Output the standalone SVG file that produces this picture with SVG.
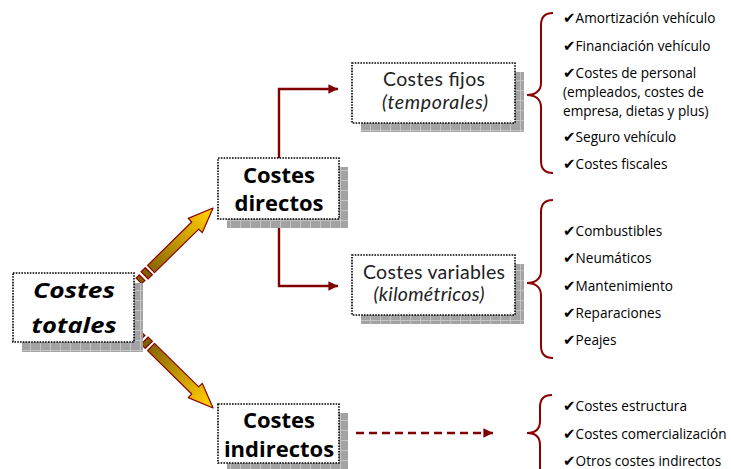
<svg xmlns="http://www.w3.org/2000/svg" width="731" height="469" viewBox="0 0 731 469">
<defs>
<pattern id="grid" width="10" height="10" patternUnits="userSpaceOnUse">
<rect width="10" height="10" fill="#a3a3a3"/>
<path d="M0,0.5H10M0.5,0V10" stroke="#c4c4c4" stroke-width="1"/>
</pattern>
<linearGradient id="ag" gradientUnits="userSpaceOnUse" x1="-10" y1="0" x2="80" y2="0">
<stop offset="0" stop-color="#7a5a00"/>
<stop offset="1" stop-color="#ffcc00"/>
</linearGradient>
<marker id="ah" viewBox="0 0 10 10" refX="10" refY="5" markerWidth="4" markerHeight="4" orient="auto" markerUnits="strokeWidth">
<path d="M0,0L10,5L0,10z" fill="#800000"/>
</marker>
<g id="bigarrow">
<path d="M0,-5H62V-10L87,0L62,10V5H0z" fill="url(#ag)" stroke="#8b0000" stroke-width="1.2" stroke-linejoin="round"/>
<rect x="-9" y="-5" width="6" height="10" fill="#7f6000" stroke="#8b0000" stroke-width="1.2"/>
<rect x="-17" y="-4" width="4.5" height="8" fill="#7f6000" stroke="#8b0000" stroke-width="1.2"/>
</g>
</defs>
<style>
.shadow{fill:url(#grid)}
.box{fill:#fff;stroke:#000;stroke-width:1.6;stroke-dasharray:1.6 1.2}
.big{font-family:"Open Sans","Liberation Sans",sans-serif;font-weight:bold;font-size:22px;fill:#000;text-anchor:middle}
.mid{font-family:Lato,"Open Sans","Liberation Sans",sans-serif;font-size:19.5px;fill:#222;text-anchor:middle}
.list{font-family:"Open Sans","Liberation Sans","DejaVu Sans",sans-serif;font-size:13.6px;fill:#000}
.ck{font-family:"DejaVu Sans",sans-serif;font-size:15px}
.conn{fill:none;stroke:#800000;stroke-width:2.4}
.brace{fill:none;stroke:#8b0000;stroke-width:2}
</style>

<g id="connectors">
<use href="#bigarrow" transform="translate(151,269) rotate(-44.5)"/>
<use href="#bigarrow" transform="translate(151,347) rotate(44.5)"/>
<path class="conn" d="M279,158V89H338" marker-end="url(#ah)"/>
<path class="conn" d="M279,228V286H338" marker-end="url(#ah)"/>
<path class="conn" d="M356,433H493" stroke-dasharray="8 5" marker-end="url(#ah)"/>
</g>

<g id="costes-totales">
<rect class="shadow" x="22" y="283" width="121" height="69"/>
<rect class="box" x="13" y="273" width="121" height="69"/>
<text class="big" font-style="italic" font-size="27" x="74" y="298" textLength="82" lengthAdjust="spacingAndGlyphs">Costes</text>
<text class="big" font-style="italic" font-size="27" x="74" y="333" textLength="85" lengthAdjust="spacingAndGlyphs">totales</text>
</g>

<g id="costes-directos">
<rect class="shadow" x="227" y="167" width="121" height="61"/>
<rect class="box" x="218" y="158" width="121" height="61"/>
<text class="big" x="279" y="183">Costes</text>
<text class="big" x="279" y="211">directos</text>
</g>

<g id="costes-indirectos">
<rect class="shadow" x="227" y="413" width="121" height="60"/>
<rect class="box" x="218" y="404" width="121" height="59"/>
<text class="big" x="279" y="428">Costes</text>
<text class="big" x="279" y="457">indirectos</text>
</g>

<g id="costes-fijos">
<rect class="shadow" x="361" y="72" width="163" height="60"/>
<rect class="box" x="352" y="63" width="163" height="60"/>
<text class="mid" x="434" y="86" textLength="102" lengthAdjust="spacing">Costes fijos</text>
<text class="mid" font-style="italic" x="435" y="109" textLength="106" lengthAdjust="spacing">(temporales)</text>
</g>

<g id="costes-variables">
<rect class="shadow" x="361" y="264" width="163" height="60"/>
<rect class="box" x="352" y="255" width="163" height="60"/>
<text class="mid" x="434" y="279" textLength="142" lengthAdjust="spacing">Costes variables</text>
<text class="mid" font-style="italic" x="429" y="301" textLength="111" lengthAdjust="spacing">(kilométricos)</text>
</g>

<g id="lista-fijos">
<path class="brace" d="M553,13C545,13 541,17 541,25V83C541,91 535,95 527,95C535,95 541,99 541,107V161C541,169 545,173 553,173"/>
<text class="list" x="563" y="23"><tspan class="ck">✔</tspan>Amortización vehículo</text>
<text class="list" x="563" y="51"><tspan class="ck">✔</tspan>Financiación vehículo</text>
<text class="list" x="563" y="78"><tspan class="ck">✔</tspan>Costes de personal</text>
<text class="list" x="563" y="97">(empleados, costes de</text>
<text class="list" x="563" y="116">empresa, dietas y plus)</text>
<text class="list" x="563" y="142"><tspan class="ck">✔</tspan>Seguro vehículo</text>
<text class="list" x="563" y="169"><tspan class="ck">✔</tspan>Costes fiscales</text>
</g>

<g id="lista-variables">
<path class="brace" d="M553,200C545,200 541,204 541,212V271C541,279 535,283 527,283C535,283 541,287 541,295V346C541,354 545,358 553,358"/>
<text class="list" x="563" y="236"><tspan class="ck">✔</tspan>Combustibles</text>
<text class="list" x="563" y="263"><tspan class="ck">✔</tspan>Neumáticos</text>
<text class="list" x="563" y="291"><tspan class="ck">✔</tspan>Mantenimiento</text>
<text class="list" x="563" y="318"><tspan class="ck">✔</tspan>Reparaciones</text>
<text class="list" x="563" y="345"><tspan class="ck">✔</tspan>Peajes</text>
</g>

<g id="lista-indirectos">
<path class="brace" d="M552,395C544,395 540,399 540,407V421C540,429 535,433 527,433C535,433 540,437 540,445V475"/>
<text class="list" x="563" y="411"><tspan class="ck">✔</tspan>Costes estructura</text>
<text class="list" x="563" y="439"><tspan class="ck">✔</tspan>Costes comercialización</text>
<text class="list" x="563" y="466"><tspan class="ck">✔</tspan>Otros costes indirectos</text>
</g>
</svg>
